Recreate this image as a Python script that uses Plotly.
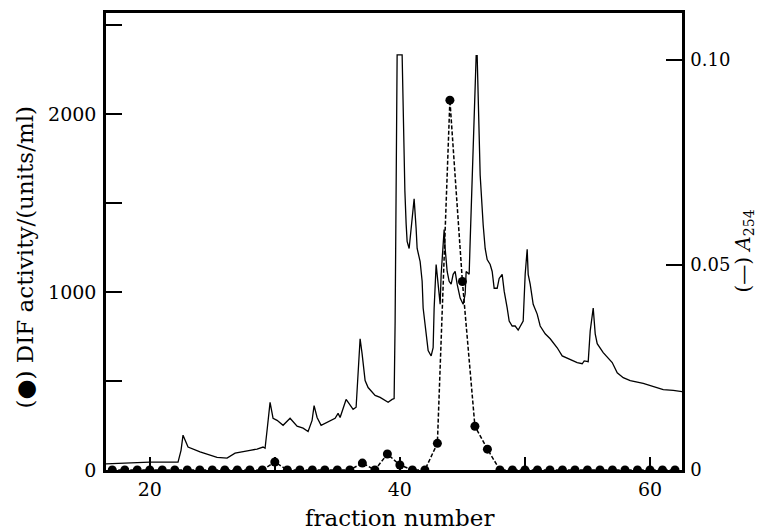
import plotly.graph_objects as go

# DIF activity (units/ml) at each fraction
fractions = list(range(17, 63))
dif_values = {30: 45, 37: 39, 39: 90, 40: 28, 43: 150, 44: 2080, 45: 1060, 46: 246, 47: 117}
dif_activity = [dif_values.get(f, 0) for f in fractions]

# A254 absorbance trace (continuous recorder trace)
a254_fraction = [16.5, 20.0, 22.26, 22.5, 22.66, 23.06, 24.02, 25.38, 26.18, 26.82, 28.02, 28.58, 29.06,
                 29.22, 29.38, 29.62, 29.86, 30.18, 30.66, 31.22, 31.78, 32.26, 32.66, 32.98, 33.14,
                 33.38, 33.70, 34.18, 34.58, 34.82, 35.06, 35.22, 35.46, 35.70, 35.94, 36.26, 36.50,
                 36.66, 36.82, 36.98, 37.22, 37.46, 38.02, 38.42, 38.82, 39.06, 39.38, 39.54, 39.62,
                 39.78, 40.18, 40.30, 40.40, 40.50, 40.58, 40.74, 40.90, 41.06, 41.14, 41.30, 41.38,
                 41.62, 41.78, 41.86, 42.10, 42.26, 42.50, 42.66, 42.74, 42.90, 42.98, 43.14, 43.22,
                 43.30, 43.46, 43.54, 43.62, 43.78, 43.94, 44.10, 44.26, 44.42, 44.58, 44.82, 45.06,
                 45.22, 45.30, 45.54, 45.62, 45.78, 45.94, 46.10, 46.18, 46.34, 46.42, 46.66, 46.82,
                 46.98, 47.22, 47.38, 47.54, 47.78, 47.94, 48.18, 48.34, 48.58, 48.74, 48.98, 49.22,
                 49.46, 49.78, 49.86, 50.02, 50.18, 50.26, 50.42, 50.66, 50.98, 51.22, 51.62, 52.02,
                 52.58, 52.98, 53.46, 54.18, 54.58, 54.74, 55.06, 55.22, 55.46, 55.62, 55.78, 56.26,
                 56.98, 57.38, 57.86, 58.42, 59.46, 60.26, 61.06, 61.86, 62.58]
a254_value = [0.0015, 0.0019, 0.0019, 0.0048, 0.0085, 0.0056, 0.0044, 0.0031, 0.0029, 0.0041, 0.0048, 0.0051, 0.0056,
              0.0053, 0.0097, 0.0165, 0.0126, 0.0121, 0.0109, 0.0126, 0.0107, 0.0102, 0.0094, 0.0121, 0.0157,
              0.0128, 0.0109, 0.0116, 0.0123, 0.0126, 0.0138, 0.0128, 0.0150, 0.0172, 0.0162, 0.0148, 0.0153,
              0.0242, 0.0320, 0.0283, 0.0218, 0.0201, 0.0182, 0.0177, 0.0169, 0.0165, 0.0172, 0.0174, 0.0363,
              0.1012, 0.1012, 0.0800, 0.0680, 0.0600, 0.0557, 0.0540, 0.0588, 0.0654, 0.0661, 0.0588, 0.0540,
              0.0508, 0.0460, 0.0395, 0.0332, 0.0291, 0.0278, 0.0298, 0.0395, 0.0501, 0.0477, 0.0419, 0.0404,
              0.0477, 0.0557, 0.0586, 0.0540, 0.0484, 0.0460, 0.0453, 0.0477, 0.0484, 0.0453, 0.0419, 0.0404,
              0.0429, 0.0484, 0.0477, 0.0557, 0.0719, 0.0879, 0.1010, 0.1010, 0.0840, 0.0719, 0.0598, 0.0540,
              0.0513, 0.0501, 0.0484, 0.0443, 0.0443, 0.0467, 0.0477, 0.0436, 0.0395, 0.0363, 0.0351, 0.0351,
              0.0341, 0.0356, 0.0363, 0.0477, 0.0538, 0.0477, 0.0453, 0.0404, 0.0380, 0.0351, 0.0332, 0.0320,
              0.0298, 0.0278, 0.0271, 0.0262, 0.0259, 0.0266, 0.0264, 0.0339, 0.0395, 0.0332, 0.0308, 0.0286,
              0.0262, 0.0237, 0.0225, 0.0218, 0.0211, 0.0203, 0.0196, 0.0194, 0.0191]

y2_tickvals = [0, 0.05, 0.10]
y2_ticktext = ["0", "0.05", "0.10"]

FONT = "DejaVu Serif"
TICK_SIZE = 19
TITLE_SIZE = 23

fig = go.Figure()
fig.add_trace(go.Scatter(x=a254_fraction, y=a254_value, mode="lines", yaxis="y2",
                         line=dict(color="black", width=1.3), showlegend=False))
fig.add_trace(go.Scatter(x=fractions, y=dif_activity, mode="lines+markers", yaxis="y",
                         line=dict(color="black", width=1.5, dash="4px,2px"),
                         marker=dict(color="black", size=9), showlegend=False))

fig.update_layout(
    width=761, height=532,
    margin=dict(l=106, r=79, t=10, b=62),
    paper_bgcolor="white", plot_bgcolor="white",
    font=dict(family=FONT, size=TICK_SIZE, color="black"),
    xaxis=dict(range=[16.5, 62.56], showline=True, mirror=True, linewidth=2.5, linecolor="black",
               ticks="inside", ticklen=13, tickwidth=1.5, tickcolor="black",
               tick0=0, dtick=20, showgrid=False, zeroline=False,
               minor=dict(ticks="inside", ticklen=13, tickwidth=1.5, tickcolor="black", dtick=10,
                          showgrid=False),
               tickfont=dict(size=TICK_SIZE, family=FONT)),
    yaxis=dict(range=[0, 2570], showline=True, mirror=True, linewidth=2.5, linecolor="black",
               ticks="inside", ticklen=16, tickwidth=2, tickcolor="black",
               tick0=0, dtick=1000, showgrid=False, zeroline=False,
               minor=dict(ticks="inside", ticklen=16, tickwidth=2, tickcolor="black", dtick=500,
                          showgrid=False),
               ticklabelstandoff=3, tickfont=dict(size=TICK_SIZE, family=FONT)),
    yaxis2=dict(range=[0, 0.1114], overlaying="y", side="right", showline=True, linewidth=2.5,
                linecolor="black", ticks="inside", ticklen=16, tickwidth=2, tickcolor="black",
                tickvals=y2_tickvals, ticktext=y2_ticktext, showgrid=False, zeroline=False,
                ticklabelstandoff=2, tickfont=dict(size=18, family=FONT)),
    annotations=[
        dict(text="fraction number", xref="paper", yref="paper", x=0.5087, y=-0.104,
             xanchor="center", yanchor="middle", showarrow=False,
             font=dict(size=TITLE_SIZE, family=FONT)),
        dict(text="(\u25cf) DIF activity/(units/ml)", xref="paper", yref="paper", x=-0.1406, y=0.465,
             xanchor="center", yanchor="middle", textangle=-90, showarrow=False,
             font=dict(size=TITLE_SIZE, family=FONT)),
        dict(text="(\u2014) <i>A</i><sub>254</sub>", xref="paper", yref="paper", x=1.106, y=0.478,
             xanchor="center", yanchor="middle", textangle=-90, showarrow=False,
             font=dict(size=20, family=FONT)),
    ],
)

fig.write_html("out.html", config={"displayModeBar": False},
               post_script="document.body.style.margin='0';document.body.style.overflow='hidden';")
